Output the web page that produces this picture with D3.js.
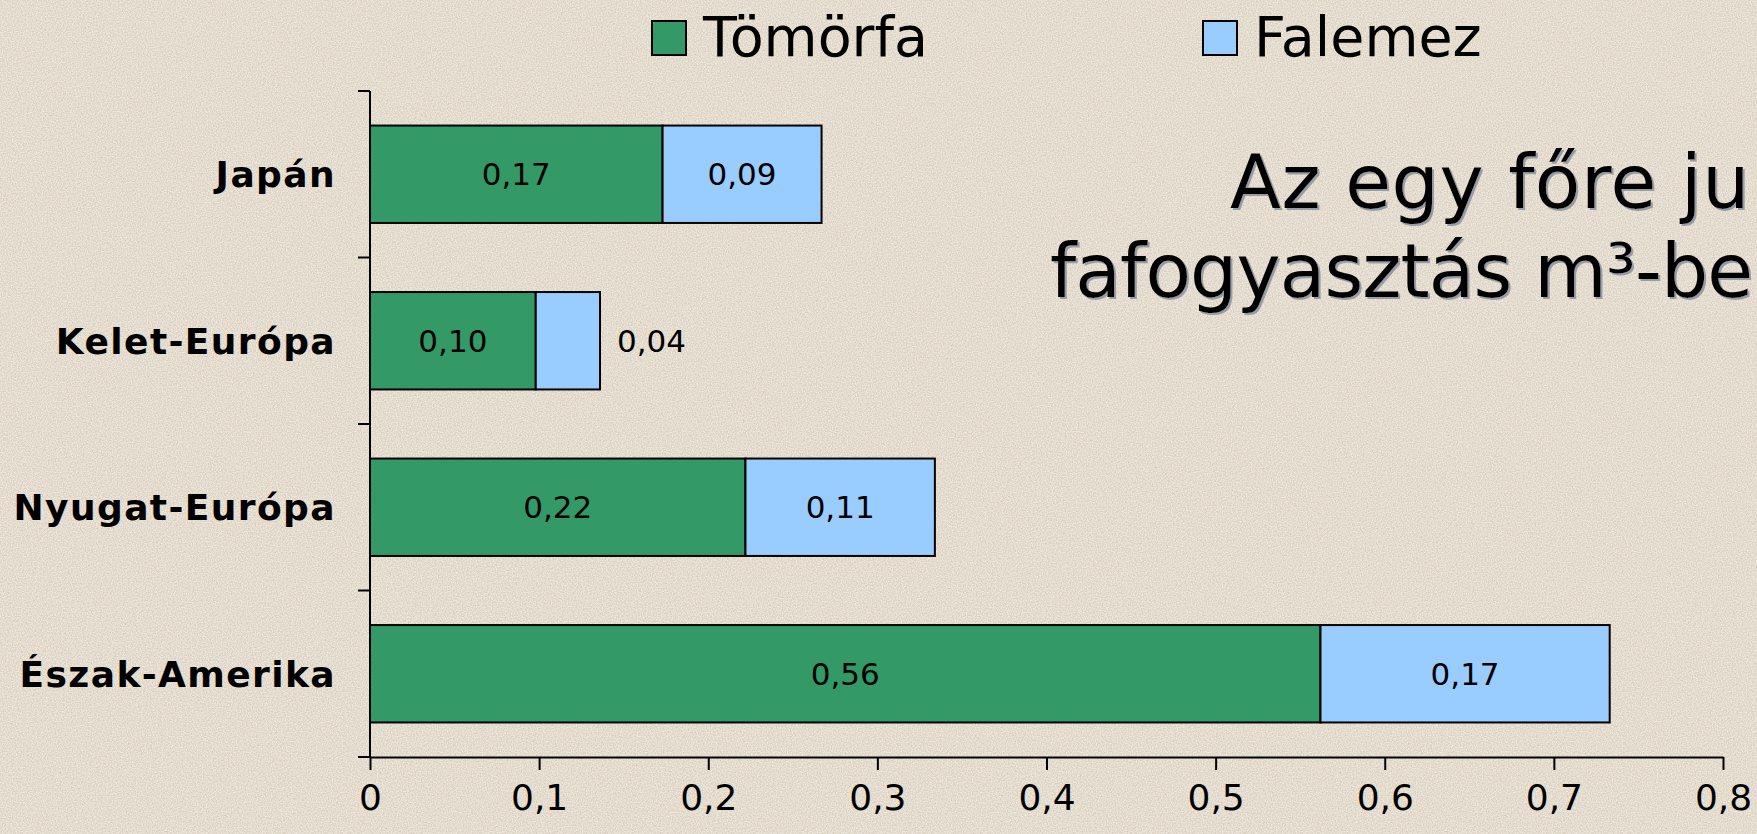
<!DOCTYPE html>
<html>
<head>
<meta charset="utf-8">
<script src="https://cdn.jsdelivr.net/npm/d3@7"></script>
<style>
  html, body { margin: 0; padding: 0; background: #E2D9CA; overflow: hidden; }
  svg { display: block; }
</style>
</head>
<body>
<script>
// ---- data ----
const categories = ["Japán", "Kelet-Európa", "Nyugat-Európa", "Észak-Amerika"];
const seriesNames = ["Tömörfa", "Falemez"];
const tomorfa = [0.173, 0.098, 0.222, 0.562];
const falemez = [0.094, 0.038, 0.112, 0.171];
const xTicks = [0, 0.1, 0.2, 0.3, 0.4, 0.5, 0.6, 0.7, 0.8];
// slide title as visible in the picture (cut off by the right edge)
const titleLines = ["Az egy főre ju", "fafogyasztás m³-be"];
const colors = ["#339966", "#99CCFF"];

const W = 1757, H = 834;
const svg = d3.select("body").append("svg").attr("width", W).attr("height", H);

// background with paper texture
const defs = svg.append("defs");
const f = defs.append("filter").attr("id", "paper").attr("x", 0).attr("y", 0).attr("width", "100%").attr("height", "100%");
f.append("feTurbulence").attr("type", "fractalNoise").attr("baseFrequency", 0.6).attr("numOctaves", 2).attr("seed", 7).attr("result", "noise");
f.append("feColorMatrix").attr("in", "noise").attr("type", "matrix")
  .attr("values", "0 0 0 0 0.66  0 0 0 0 0.58  0 0 0 0 0.48  0 0 0 -3.4 1.85").attr("result", "spk");
f.append("feComposite").attr("in", "spk").attr("in2", "SourceGraphic").attr("operator", "in");
const f2 = defs.append("filter").attr("id", "paper2").attr("x", 0).attr("y", 0).attr("width", "100%").attr("height", "100%");
f2.append("feTurbulence").attr("type", "fractalNoise").attr("baseFrequency", 0.8).attr("numOctaves", 1).attr("seed", 3).attr("result", "noise");
f2.append("feColorMatrix").attr("in", "noise").attr("type", "matrix")
  .attr("values", "0 0 0 0 0.97  0 0 0 0 0.95  0 0 0 0 0.91  0 0 0 -4 2.3").attr("result", "spk");
f2.append("feComposite").attr("in", "spk").attr("in2", "SourceGraphic").attr("operator", "in");
svg.append("rect").attr("width", W).attr("height", H).attr("fill", "#E2D9CA");
svg.append("rect").attr("width", W).attr("height", H).attr("fill", "#E2D9CA").attr("filter", "url(#paper)").attr("opacity", 0.7);
svg.append("rect").attr("width", W).attr("height", H).attr("fill", "#E2D9CA").attr("filter", "url(#paper2)").attr("opacity", 0.5);

const shadow = defs.append("filter").attr("id", "tshadow").attr("x", "-5%").attr("y", "-10%").attr("width", "110%").attr("height", "130%");
shadow.append("feDropShadow").attr("dx", 2).attr("dy", 2).attr("stdDeviation", 0.4).attr("flood-color", "#8f96a3").attr("flood-opacity", 0.9);

// scales
const x = d3.scaleLinear().domain([0, 0.8]).range([370, 1723]);
const y = d3.scaleBand().domain(categories).range([91, 757]).paddingInner(0.415).paddingOuter(0.2075);
const locale = d3.formatLocale({decimal: ",", thousands: " ", grouping: [3], currency: ["", ""]});
const tickFmt = locale.format(".1~f");
const valFmt = locale.format(".2f");

const font = "'DejaVu Sans', Verdana, sans-serif";

// title (slide heading)
const title = svg.append("g").attr("filter", "url(#tshadow)")
  .style("font-family", font).style("font-size", "74.5px").attr("fill", "#000");
title.append("text").attr("x", 1230).attr("y", 208).style("letter-spacing", "0.5px").text(titleLines[0]);
title.append("text").attr("x", 1050).attr("y", 297).style("letter-spacing", "-0.9px").text(titleLines[1]);

// bars
const stacked = categories.map((c, i) => {
  const vals = [tomorfa[i], falemez[i]];
  let acc = 0;
  return vals.map((v, k) => { const s = acc; acc += v; return {cat: c, k, v, x0: s, x1: acc}; });
}).flat();

const gBars = svg.append("g");
gBars.selectAll("rect").data(stacked).join("rect")
  .attr("x", d => x(d.x0)).attr("y", d => y(d.cat))
  .attr("width", d => x(d.x1) - x(d.x0)).attr("height", y.bandwidth())
  .attr("fill", d => colors[d.k]).attr("stroke", "#000").attr("stroke-width", 2);

// value labels
const gLab = svg.append("g").style("font-family", font).style("font-size", "31px").attr("fill", "#000");
gLab.selectAll("text").data(stacked).join("text")
  .attr("text-anchor", "middle")
  .attr("y", d => y(d.cat) + y.bandwidth() / 2).attr("dy", "0.36em")
  .text(d => valFmt(d.v))
  .each(function(d) {
    const w = this.getComputedTextLength();
    const segW = x(d.x1) - x(d.x0);
    if (w + 4 > segW) {
      d3.select(this).attr("text-anchor", "start").attr("x", x(d.x1) + 17);
    } else {
      d3.select(this).attr("x", (x(d.x0) + x(d.x1)) / 2);
    }
  });

// x axis
const gx = svg.append("g").attr("transform", `translate(0,${y.range()[1]})`)
  .call(d3.axisBottom(x).tickValues(xTicks).tickFormat(tickFmt).tickSize(13).tickSizeOuter(0).tickPadding(14));
gx.select(".domain").attr("stroke", "#000").attr("stroke-width", 2);
gx.selectAll(".tick line").attr("stroke", "#000").attr("stroke-width", 2);
gx.selectAll(".tick text").style("font-family", font).style("font-size", "36px").attr("fill", "#000");

// y axis: line + ticks at category boundaries
const step = y.step();
const bounds = categories.map(c => y(c) - step * y.paddingInner() / 2).concat([y.range()[1]]);
const gy = svg.append("g");
gy.append("line").attr("x1", x(0)).attr("x2", x(0)).attr("y1", y.range()[0]).attr("y2", y.range()[1])
  .attr("stroke", "#000").attr("stroke-width", 2);
gy.selectAll("line.t").data(bounds).join("line").attr("class", "t")
  .attr("x1", x(0) - 12).attr("x2", x(0)).attr("y1", d => d).attr("y2", d => d)
  .attr("stroke", "#000").attr("stroke-width", 2);
gy.selectAll("text").data(categories).join("text")
  .attr("x", 336).attr("y", d => y(d) + y.bandwidth() / 2).attr("dy", "0.36em")
  .attr("text-anchor", "end")
  .style("font-family", font).style("font-size", "36px").style("font-weight", "bold")
  .style("letter-spacing", "1.4px")
  .attr("fill", "#000").text(d => d);

// legend
const legendX = [652, 1203];
const gLeg = svg.append("g");
const li = gLeg.selectAll("g").data(seriesNames).join("g")
  .attr("transform", (d, i) => `translate(${legendX[i]},21)`);
li.append("rect").attr("width", 34).attr("height", 34)
  .attr("fill", (d, i) => colors[i]).attr("stroke", "#000").attr("stroke-width", 2);
li.append("text").attr("x", 51).attr("y", 35)
  .style("font-family", font).style("font-size", "55.5px").attr("fill", "#000").text(d => d);
</script>
</body>
</html>
